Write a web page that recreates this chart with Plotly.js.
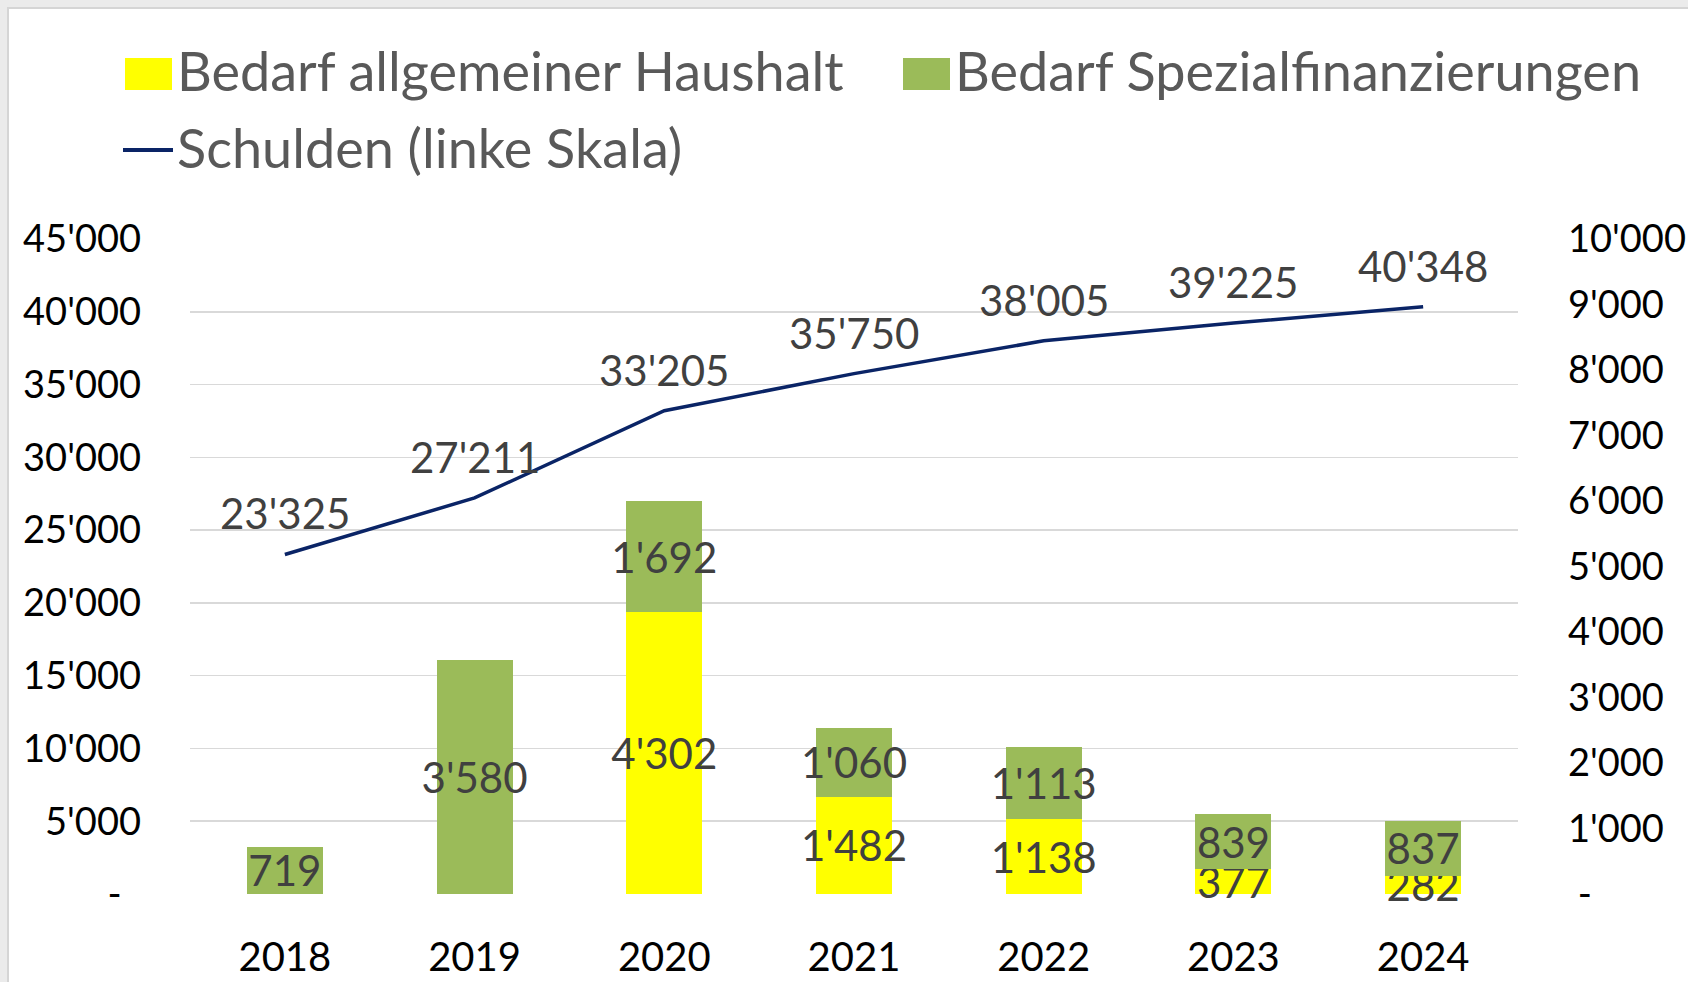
<!DOCTYPE html>
<html>
<head>
<meta charset="utf-8">
<script src="https://cdn.plot.ly/plotly-3.0.1.min.js"></script>
<style>
  html, body { margin: 0; padding: 0; width: 1688px; height: 982px; overflow: hidden; background: #ebebeb; }
  #frame { position: absolute; left: 7px; top: 7px; width: 1681px; height: 975px; background: #ffffff;
           border-left: 2px solid #d5d5d5; border-top: 2px solid #d5d5d5; box-sizing: border-box; }
  #chart { position: absolute; left: 0; top: 0; width: 1688px; height: 982px; }
</style>
</head>
<body>
<div id="frame"></div>
<div id="chart"></div>
<script>
// ---- data ----
const years = ['2018', '2019', '2020', '2021', '2022', '2023', '2024'];
const bedarfAllgemein = [null, null, 4302, 1482, 1138, 377, 282];
const bedarfSpezial = [719, 3580, 1692, 1060, 1113, 839, 837];
const schulden = [23325, 27211, 33205, 35750, 38005, 39225, 40348];
const leftTicks = [0, 5000, 10000, 15000, 20000, 25000, 30000, 35000, 40000, 45000];
const rightTicks = [0, 1000, 2000, 3000, 4000, 5000, 6000, 7000, 8000, 9000, 10000];
const nameAllgemein = 'Bedarf allgemeiner Haushalt';
const nameSpezial = 'Bedarf Spezialfinanzierungen';
const nameSchulden = 'Schulden (linke Skala)';

// ---- helpers ----
function fmt(v) {
  return String(Math.round(v)).replace(/\B(?=(\d{3})+(?!\d))/g, "'");
}
const FONT = 'Lato, "Open Sans", sans-serif';
const colYellow = '#ffff00';
const colGreen = '#9bbb59';
const colNavy = '#0a2466';
const colLabel = '#404040';
const colLegend = '#595959';

// plot area in page pixels
const PL = 190, PR = 1518, PT = 239, PB = 894;
const W = 1688, H = 982;
const px = x => (x - PL) / (PR - PL);
const py = y => 1 - (y - PT) / (PB - PT);

const traces = [
  {
    type: 'bar', name: nameAllgemein, x: years, y: bedarfAllgemein, yaxis: 'y2',
    marker: { color: colYellow },
    text: bedarfAllgemein.map(v => v ? fmt(v) : ''),
    textposition: 'inside', insidetextanchor: 'middle', constraintext: 'none', textangle: 0,
    textfont: { family: FONT, size: 42, color: colLabel }, cliponaxis: false,
    hoverinfo: 'x+y'
  },
  {
    type: 'bar', name: nameSpezial, x: years, y: bedarfSpezial, yaxis: 'y2',
    marker: { color: colGreen },
    text: bedarfSpezial.map(v => v ? fmt(v) : ''),
    textposition: 'inside', insidetextanchor: 'middle', constraintext: 'none', textangle: 0,
    textfont: { family: FONT, size: 42, color: colLabel }, cliponaxis: false,
    hoverinfo: 'x+y'
  },
  {
    type: 'scatter', mode: 'lines', name: nameSchulden, x: years, y: schulden, yaxis: 'y',
    line: { color: colNavy, width: 3.5 },
    hoverinfo: 'x+y'
  }
];

const annotations = [];
// line value labels (x given as category index)
years.forEach((yr, i) => {
  annotations.push({
    x: i, y: schulden[i], xref: 'x', yref: 'y', text: fmt(schulden[i]),
    showarrow: false, xanchor: 'center', yanchor: 'middle', yshift: 41,
    font: { family: FONT, size: 42, color: colLabel }
  });
});
// custom legend texts
annotations.push({ x: px(175), y: py(70), xref: 'paper', yref: 'paper', text: nameAllgemein,
  showarrow: false, xanchor: 'left', yanchor: 'middle', font: { family: FONT, size: 54, color: colLegend } });
annotations.push({ x: px(953), y: py(70), xref: 'paper', yref: 'paper', text: nameSpezial,
  showarrow: false, xanchor: 'left', yanchor: 'middle', font: { family: FONT, size: 54, color: colLegend } });
annotations.push({ x: px(175), y: py(148), xref: 'paper', yref: 'paper', text: nameSchulden,
  showarrow: false, xanchor: 'left', yanchor: 'middle', font: { family: FONT, size: 54, color: colLegend } });

const shapes = [
  { type: 'rect', xref: 'paper', yref: 'paper', x0: px(125), x1: px(172), y0: py(58), y1: py(90),
    fillcolor: colYellow, line: { width: 0 } },
  { type: 'rect', xref: 'paper', yref: 'paper', x0: px(903), x1: px(950), y0: py(58), y1: py(90),
    fillcolor: colGreen, line: { width: 0 } },
  { type: 'line', xref: 'paper', yref: 'paper', x0: px(123), x1: px(173), y0: py(150), y1: py(150),
    line: { color: colNavy, width: 4 } }
];

const layout = {
  width: W, height: H,
  margin: { l: PL, r: W - PR, t: PT, b: H - PB, pad: 0 },
  paper_bgcolor: 'rgba(0,0,0,0)', plot_bgcolor: 'rgba(0,0,0,0)',
  font: { family: FONT, color: '#000000' },
  showlegend: false,
  barmode: 'stack', bargap: 0.6,
  xaxis: {
    type: 'category', range: [-0.5, years.length - 0.5], autorange: false,
    showgrid: false, zeroline: false, showline: false, ticks: '',
    tickfont: { family: FONT, size: 40, color: '#000000' }, ticklabelstandoff: 36,
    fixedrange: true
  },
  yaxis: {
    range: [0, 45000], autorange: false, tickvals: leftTicks,
    ticktext: leftTicks.map(v => v === 0 ? '-\u00a0\u00a0' : fmt(v)),
    showgrid: true, gridcolor: '#d9d9d9', gridwidth: 1.5, zeroline: false, showline: false, ticks: '',
    tickfont: { family: FONT, size: 38, color: '#000000' }, ticklabelstandoff: 48,
    fixedrange: true
  },
  yaxis2: {
    range: [0, 10000], autorange: false, tickvals: rightTicks,
    ticktext: rightTicks.map(v => v === 0 ? '\u00a0-' : fmt(v)),
    overlaying: 'y', side: 'right', showgrid: false, zeroline: false, showline: false, ticks: '',
    tickfont: { family: FONT, size: 38, color: '#000000' }, ticklabelstandoff: 49,
    fixedrange: true
  },
  annotations: annotations,
  shapes: shapes
};

Plotly.newPlot('chart', traces, layout, { displayModeBar: false, staticPlot: true });
</script>
</body>
</html>
